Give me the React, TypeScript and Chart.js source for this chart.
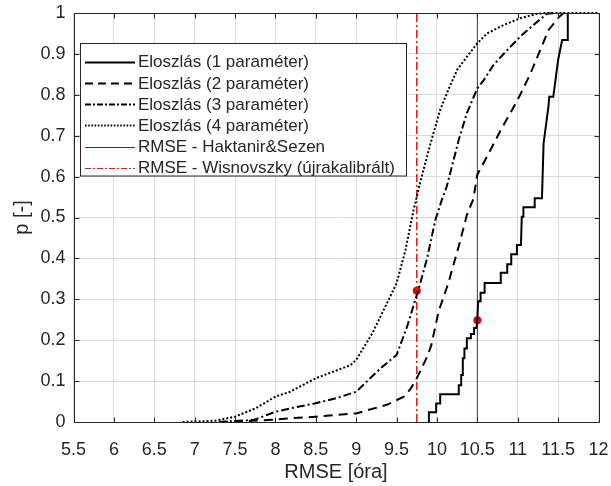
import React, { useEffect, useRef } from 'react';
import { Chart, registerables } from 'chart.js';

Chart.register(...registerables);

// ---------- data ----------
const xTicks = [5.5, 6, 6.5, 7, 7.5, 8, 8.5, 9, 9.5, 10, 10.5, 11, 11.5, 12];
const yTicks = [0, 0.1, 0.2, 0.3, 0.4, 0.5, 0.6, 0.7, 0.8, 0.9, 1];

const labels = [
  'Eloszlás (1 paraméter)',
  'Eloszlás (2 paraméter)',
  'Eloszlás (3 paraméter)',
  'Eloszlás (4 paraméter)',
  'RMSE - Haktanir&Sezen',
  'RMSE - Wisnovszky (újrakalibrált)',
];

// 1-parameter distribution (empirical, stepped)
const dist1X = [9.9, 9.9, 9.99, 9.99, 10.04, 10.04, 10.27, 10.27, 10.3, 10.3, 10.32, 10.32, 10.34, 10.34, 10.37, 10.37, 10.42, 10.42, 10.46, 10.46, 10.49, 10.5, 10.51, 10.54, 10.54, 10.59, 10.59, 10.79, 10.79, 10.87, 10.87, 10.92, 10.92, 10.99, 10.99, 11.04, 11.05, 11.07, 11.07, 11.21, 11.21, 11.3, 11.32, 11.38, 11.39, 11.44, 11.5, 11.55, 11.61, 11.62];
const dist1P = [0, 0.024, 0.024, 0.045, 0.045, 0.068, 0.068, 0.09, 0.09, 0.115, 0.115, 0.156, 0.156, 0.18, 0.18, 0.205, 0.205, 0.215, 0.215, 0.23, 0.23, 0.25, 0.295, 0.295, 0.316, 0.316, 0.34, 0.34, 0.365, 0.365, 0.386, 0.386, 0.41, 0.41, 0.433, 0.433, 0.502, 0.502, 0.525, 0.525, 0.547, 0.547, 0.681, 0.771, 0.795, 0.795, 0.885, 0.934, 0.934, 1];

// 2-parameter distribution
const dist2X = [7.3, 7.6, 8.0, 8.18, 8.5, 9.0, 9.38, 9.59, 9.67, 9.76, 9.88, 9.93, 10.02, 10.14, 10.27, 10.37, 10.45, 10.5, 10.62, 10.79, 10.93, 11.03, 11.16, 11.28, 11.38, 11.51, 11.57];
const dist2P = [0, 0.002, 0.006, 0.009, 0.013, 0.021, 0.042, 0.062, 0.08, 0.111, 0.16, 0.188, 0.27, 0.339, 0.43, 0.506, 0.545, 0.605, 0.649, 0.714, 0.763, 0.8, 0.853, 0.91, 0.958, 0.99, 1];

// 3-parameter distribution
const dist3X = [7.3, 7.73, 8.0, 8.18, 8.5, 8.75, 9.0, 9.3, 9.5, 9.63, 9.77, 9.88, 9.98, 10.06, 10.12, 10.27, 10.37, 10.5, 10.58, 10.7, 10.83, 11.03, 11.22, 11.36, 11.49];
const dist3P = [0, 0.005, 0.025, 0.033, 0.046, 0.058, 0.074, 0.131, 0.164, 0.233, 0.323, 0.402, 0.494, 0.543, 0.575, 0.69, 0.755, 0.816, 0.836, 0.873, 0.901, 0.942, 0.975, 0.998, 1];

// 4-parameter distribution
const dist4X = [6.85, 7.25, 7.5, 7.75, 8.0, 8.18, 8.5, 8.93, 9.0, 9.2, 9.38, 9.5, 9.61, 9.71, 9.79, 9.92, 10.04, 10.14, 10.25, 10.37, 10.5, 10.62, 10.83, 11.03, 11.24, 11.36, 12];
const dist4P = [0, 0.003, 0.013, 0.033, 0.062, 0.074, 0.107, 0.139, 0.152, 0.217, 0.29, 0.339, 0.42, 0.518, 0.584, 0.681, 0.763, 0.812, 0.861, 0.893, 0.926, 0.95, 0.971, 0.987, 0.998, 1, 1];

// reference RMSE values and marked points
const rmseHaktanir = 10.5;
const rmseWisnovszky = 9.75;
const markX = [9.75, 10.5];
const markP = [0.321, 0.249];

// ---------- styles ----------
const TEXT = '#262626';
const FONT = 'Arial, "Liberation Sans", Helvetica, sans-serif';
const GRID = '#dcdcdc';
const DARKRED = '#9A1020';
const RED = '#D8201C';

const toPts = (xs: number[], ys: number[]) => xs.map((x, i) => ({ x, y: ys[i] }));

const legendStyles = [
  { color: '#000', width: 1.8, dash: [] as number[] },
  { color: '#000', width: 1.8, dash: [8, 5] },
  { color: '#000', width: 1.8, dash: [6, 2, 2, 2] },
  { color: '#000', width: 1.8, dash: [1.6, 1.6] },
  { color: DARKRED, width: 1, dash: [] as number[] },
  { color: RED, width: 1, dash: [6, 2, 2, 2] },
];

const boxPlugin = {
  id: 'matlabBox',
  afterDatasetsDraw(chart: any) {
    const { ctx, chartArea: a, scales } = chart;
    ctx.save();
    ctx.strokeStyle = TEXT;
    ctx.lineWidth = 1;
    ctx.setLineDash([]);
    ctx.beginPath();
    const l = Math.round(a.left) + 0.5, r = Math.round(a.right) + 0.5;
    const t = Math.round(a.top) + 0.5, b = Math.round(a.bottom) + 0.5;
    ctx.rect(l, t, r - l, b - t);
    const tl = 5;
    scales.x.ticks.forEach((tk: any) => {
      const px = Math.round(scales.x.getPixelForValue(tk.value)) + 0.5;
      ctx.moveTo(px, b); ctx.lineTo(px, b - tl);
      ctx.moveTo(px, t); ctx.lineTo(px, t + tl);
    });
    scales.y.ticks.forEach((tk: any) => {
      const py = Math.round(scales.y.getPixelForValue(tk.value)) + 0.5;
      ctx.moveTo(l, py); ctx.lineTo(l + tl, py);
      ctx.moveTo(r, py); ctx.lineTo(r - tl, py);
    });
    ctx.stroke();
    ctx.restore();
  },
};

const legendPlugin = {
  id: 'matlabLegend',
  afterDraw(chart: any) {
    const { ctx } = chart;
    const x0 = 80.5, y0 = 43.5, w = 326, h = 132.5;
    ctx.save();
    ctx.fillStyle = '#fff';
    ctx.fillRect(x0, y0, w, h);
    ctx.strokeStyle = TEXT;
    ctx.lineWidth = 1;
    ctx.setLineDash([]);
    ctx.strokeRect(x0, y0, w, h);
    ctx.font = `17px ${FONT}`;
    ctx.textBaseline = 'middle';
    ctx.textAlign = 'left';
    labels.forEach((lab, i) => {
      const cy = 61.7 + i * 21.2;
      const st = legendStyles[i];
      ctx.strokeStyle = st.color;
      ctx.lineWidth = st.width;
      ctx.setLineDash(st.dash);
      ctx.beginPath();
      ctx.moveTo(85, Math.round(cy) + 0.5);
      ctx.lineTo(135, Math.round(cy) + 0.5);
      ctx.stroke();
      ctx.fillStyle = TEXT;
      ctx.fillText(lab, 138, cy + 1);
    });
    ctx.restore();
  },
};

export default function App() {
  const ref = useRef<HTMLCanvasElement | null>(null);

  useEffect(() => {
    if (!ref.current) return;
    const chart = new Chart(ref.current, {
      type: 'scatter',
      data: {
        datasets: [
          { label: labels[0], data: toPts(dist1X, dist1P), showLine: true, borderColor: '#000', borderWidth: 2, pointRadius: 0, tension: 0, clip: 4 } as any,
          { label: labels[1], data: toPts(dist2X, dist2P), showLine: true, borderColor: '#000', borderWidth: 2, borderDash: [9, 6], pointRadius: 0, tension: 0, clip: 4 },
          { label: labels[2], data: toPts(dist3X, dist3P), showLine: true, borderColor: '#000', borderWidth: 2, borderDash: [8, 3, 2, 3], pointRadius: 0, tension: 0, clip: 4 },
          { label: labels[3], data: toPts(dist4X, dist4P), showLine: true, borderColor: '#000', borderWidth: 2, borderDash: [2, 2], pointRadius: 0, tension: 0, clip: 4 },
          { label: labels[4], data: [{ x: rmseHaktanir, y: 0 }, { x: rmseHaktanir, y: 1 }], showLine: true, borderColor: DARKRED, borderWidth: 1, pointRadius: 0 },
          { label: labels[5], data: [{ x: rmseWisnovszky, y: 0 }, { x: rmseWisnovszky, y: 1 }], showLine: true, borderColor: RED, borderWidth: 1.6, borderDash: [8, 3, 2, 3], pointRadius: 0 },
          { label: 'pontok', data: toPts(markX, markP), showLine: false, pointRadius: 4, pointBackgroundColor: '#E8000B', pointBorderColor: '#E8000B', pointBorderWidth: 0 },
        ],
      },
      options: {
        responsive: false,
        animation: false,
        devicePixelRatio: 1,
        layout: { padding: { left: 0, top: 13, right: 12.5, bottom: 0 } },
        plugins: { legend: { display: false }, tooltip: { enabled: false } },
        scales: {
          x: {
            type: 'linear',
            min: 5.5,
            max: 12,
            afterBuildTicks: (s: any) => { s.ticks = xTicks.map((v) => ({ value: v })); },
            afterFit: (s: any) => { s.height = 64; s.paddingLeft = 0; s.paddingRight = 0; },
            ticks: {
              autoSkip: false,
              maxRotation: 0,
              padding: 17,
              color: TEXT,
              font: { family: FONT, size: 18 },
              callback: (v: any) => String(Number(Number(v).toFixed(1))),
            },
            grid: { color: GRID, lineWidth: 1, drawTicks: false },
            border: { display: false },
            title: { display: true, text: 'RMSE [óra]', color: TEXT, font: { family: FONT, size: 20 }, padding: { top: 0, bottom: 2 } },
          },
          y: {
            type: 'linear',
            min: 0,
            max: 1,
            afterBuildTicks: (s: any) => { s.ticks = yTicks.map((v) => ({ value: v })); },
            afterFit: (s: any) => { s.width = 73.5; s.paddingTop = 0; s.paddingBottom = 0; },
            ticks: {
              autoSkip: false,
              padding: 8,
              color: TEXT,
              font: { family: FONT, size: 18 },
              callback: (v: any) => String(Number(Number(v).toFixed(1))),
            },
            grid: { color: GRID, lineWidth: 1, drawTicks: false },
            border: { display: false },
            title: { display: true, text: 'p [-]', color: TEXT, font: { family: FONT, size: 20 }, padding: { top: 10, bottom: 0 } },
          },
        },
      },
      plugins: [boxPlugin, legendPlugin],
    });
    return () => chart.destroy();
  }, []);

  return (
    <div style={{ position: 'absolute', left: 0, top: 0, width: 611, height: 486, background: '#fff' }}>
      <canvas ref={ref} width={611} height={486} style={{ display: 'block', width: 611, height: 486 }} />
    </div>
  );
}
